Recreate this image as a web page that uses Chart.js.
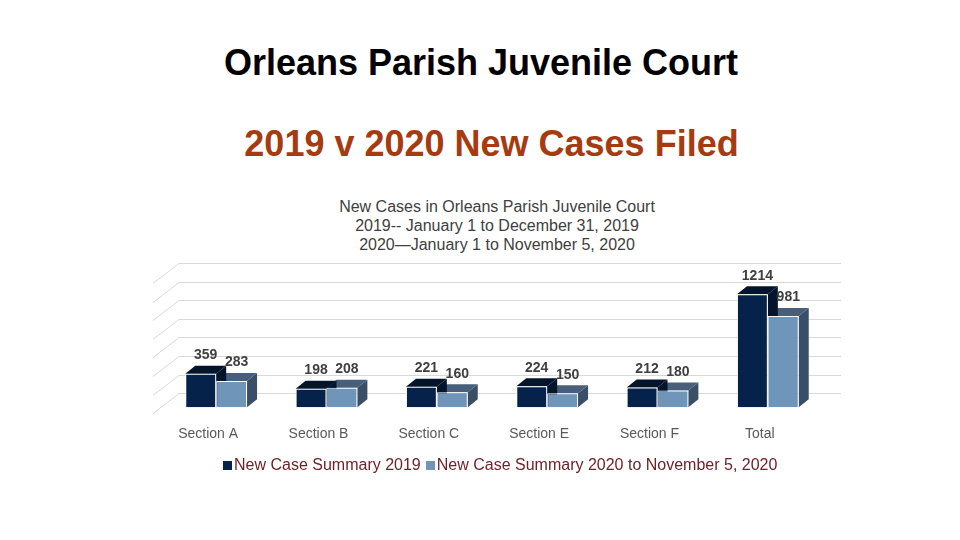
<!DOCTYPE html>
<html>
<head>
<meta charset="utf-8">
<script src="https://cdn.jsdelivr.net/npm/chart.js@4"></script>
<style>
  body { margin: 0; background: #fff; font-family: "Liberation Sans", Arial, sans-serif; overflow: hidden; }
  #wrap { position: relative; width: 960px; height: 540px; }
  #wrap canvas { position: absolute; left: 0; top: 0; }
  .head { position: absolute; white-space: nowrap; transform: translateX(-50%); }
  #title1 { left: 481px; top: 42px; font-size: 36px; line-height: 42px; font-weight: bold; color: #000; }
  #title2 { left: 491.5px; top: 123px; font-size: 36px; line-height: 42px; font-weight: bold; color: #a63a10; }
  #title3 { left: 497px; top: 197px; font-size: 16px; line-height: 19px; color: #404040; text-align: center; }
  #chart-legend { position: absolute; left: 223px; top: 456px; font-size: 16px; line-height: 18px; color: #6e2229; white-space: nowrap; }
  #chart-legend span.item { margin-right: 5px; }
  #chart-legend i { display: inline-block; width: 9px; height: 9px; margin-right: 2px; }
</style>
</head>
<body>
<div id="wrap">
  <div class="head" id="title1">Orleans Parish Juvenile Court</div>
  <div class="head" id="title2">2019 v 2020 New Cases Filed</div>
  <div class="head" id="title3">New Cases in Orleans Parish Juvenile Court<br>2019-- January 1 to December 31, 2019<br>2020—January 1 to November 5, 2020</div>
  <canvas id="court-chart" width="960" height="540"></canvas>
  <div id="chart-legend"></div>
</div>
<script>
const categories = ['Section A', 'Section B', 'Section C', 'Section E', 'Section F', 'Total'];
const cases2019 = [359, 198, 221, 224, 212, 1214];
const cases2020 = [283, 208, 160, 150, 180, 981];
const seriesNames = ['New Case Summary 2019', 'New Case Summary 2020 to November 5, 2020'];

const faceColors = [
  { front: '#04224a', top: '#03142b', side: '#03142b' },
  { front: '#6f95b8', top: '#475f7a', side: '#3a4f65' }
];

// fake 3d: front plane is the chart area, walls go back, bars sit part way in
const wallX = 26, wallY = 20;
const barX = 8, barY = 6;
const depthX = 10, depthY = 8;

const fake3d = {
  id: 'fake3d',
  beforeDatasetsDraw(chart) {
    const c = chart.ctx, area = chart.chartArea;
    c.save();
    c.strokeStyle = '#d9d9d9';
    c.lineWidth = 1;
    chart.scales.y.ticks.forEach(function (t) {
      const y = Math.round(chart.scales.y.getPixelForValue(t.value)) + 0.5;
      c.beginPath();
      c.moveTo(area.left, y);
      c.lineTo(area.left + wallX, y - wallY);
      c.lineTo(area.right + wallX, y - wallY);
      c.stroke();
    });
    c.restore();
    c.save();
    c.translate(barX, -barY);
    // 2020 faces first, the 2019 side hangs over the 2020 top
    [1, 0].forEach(function (i) {
      const col = faceColors[i];
      chart.getDatasetMeta(i).data.forEach(function (bar) {
        const l = bar.x - bar.width / 2, r = bar.x + bar.width / 2;
        c.fillStyle = col.side;
        c.beginPath();
        c.moveTo(r, bar.y);
        c.lineTo(r + depthX, bar.y - depthY);
        c.lineTo(r + depthX, bar.base - depthY);
        c.lineTo(r, bar.base);
        c.fill();
        c.fillStyle = col.top;
        c.beginPath();
        c.moveTo(l, bar.y);
        c.lineTo(l + depthX, bar.y - depthY);
        c.lineTo(r + depthX, bar.y - depthY);
        c.lineTo(r, bar.y);
        c.fill();
      });
    });
  },
  afterDatasetsDraw(chart) {
    const c = chart.ctx;
    c.restore();
    c.save();
    c.fillStyle = '#404040';
    c.font = 'bold 14px "Liberation Sans", Arial, sans-serif';
    c.textAlign = 'center';
    c.textBaseline = 'middle';
    chart.data.datasets.forEach(function (ds, i) {
      chart.getDatasetMeta(i).data.forEach(function (bar, j) {
        c.fillText(ds.data[j], bar.x + barX + 5, bar.y - barY - 18.5);
      });
    });
    c.restore();
  }
};

new Chart(document.getElementById('court-chart'), {
  type: 'bar',
  data: {
    labels: categories,
    datasets: [{
      label: seriesNames[0],
      data: cases2019,
      backgroundColor: faceColors[0].front,
      borderColor: '#ffffff',
      borderWidth: 1,
      clip: false
    }, {
      label: seriesNames[1],
      data: cases2020,
      backgroundColor: faceColors[1].front,
      borderColor: '#ffffff',
      borderWidth: 1,
      clip: false
    }]
  },
  options: {
    responsive: false,
    animation: false,
    devicePixelRatio: 1,
    layout: { padding: { left: 153, right: 145, top: 283, bottom: 92 } },
    datasets: { bar: { barPercentage: 1, categoryPercentage: 0.56 } },
    scales: {
      y: { display: false, min: 0, max: 1400, ticks: { stepSize: 200, autoSkip: false } },
      x: {
        grid: { display: false },
        border: { display: false },
        ticks: {
          color: '#595959',
          padding: 5,
          maxRotation: 0,
          font: { size: 14, family: '"Liberation Sans", Arial, sans-serif' }
        }
      }
    },
    plugins: { legend: { display: false }, tooltip: { enabled: false } }
  },
  plugins: [fake3d, {
    afterDatasetUpdate(chart) {
      let html = '';
      chart.data.datasets.forEach(function (ds) {
        html += '<span class="item"><i style="background:' + ds.backgroundColor + '"></i>' + ds.label + '</span>';
      });
      document.getElementById('chart-legend').innerHTML = html;
    }
  }]
});
</script>
</body>
</html>
